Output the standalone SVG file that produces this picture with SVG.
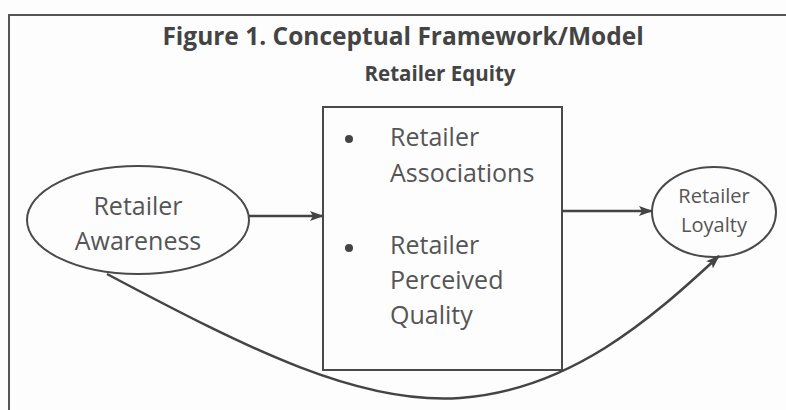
<svg xmlns="http://www.w3.org/2000/svg" width="786" height="410" viewBox="0 0 786 410">
  <defs>
    <marker id="arrow" viewBox="0 0 14 10" refX="13" refY="5" markerWidth="14" markerHeight="10" markerUnits="userSpaceOnUse" orient="auto">
      <path d="M0,0 L14,5 L0,10 L3,5 Z" fill="#444"/>
    </marker>
    <style>
      text { font-family: "Open Sans", "Liberation Sans", sans-serif; fill: #555; }
      .title { font-size: 24.5px; font-weight: bold; fill: #444; }
      .head { font-size: 20.5px; font-weight: bold; fill: #444; }
      .big { font-size: 25px; }
      .small { font-size: 20px; }
      .shape { fill: none; stroke: #4a4a4a; stroke-width: 2; }
      .link { fill: none; stroke: #444; stroke-width: 2.5; }
    </style>
  </defs>
  <rect width="786" height="410" fill="#fdfdfd"/>

  <!-- outer frame, right and bottom edges run past the canvas -->
  <rect x="9" y="15" width="800" height="420" fill="none" stroke="#555" stroke-width="2"/>

  <text class="title" x="403" y="45" text-anchor="middle">Figure 1. Conceptual Framework/Model</text>

  <g id="retailer-awareness">
    <ellipse class="shape" cx="138" cy="220" rx="111" ry="54"/>
    <text class="big" x="138" y="215" text-anchor="middle">Retailer</text>
    <text class="big" x="138" y="250" text-anchor="middle">Awareness</text>
  </g>

  <g id="retailer-equity">
    <text class="head" x="440" y="81" text-anchor="middle">Retailer Equity</text>
    <rect class="shape" x="323" y="107" width="239" height="263"/>
    <circle cx="349" cy="139" r="4" fill="#444"/>
    <text class="big" x="390" y="146">Retailer</text>
    <text class="big" x="390" y="182">Associations</text>
    <circle cx="349" cy="248" r="4" fill="#444"/>
    <text class="big" x="390" y="254">Retailer</text>
    <text class="big" x="390" y="289">Perceived</text>
    <text class="big" x="390" y="324">Quality</text>
  </g>

  <g id="retailer-loyalty">
    <ellipse class="shape" cx="714" cy="212" rx="62" ry="45"/>
    <text class="small" x="714" y="203" text-anchor="middle">Retailer</text>
    <text class="small" x="714" y="232" text-anchor="middle">Loyalty</text>
  </g>

  <g id="connectors">
    <line class="link" x1="249" y1="216" x2="323" y2="216" marker-end="url(#arrow)"/>
    <line class="link" x1="562" y1="211" x2="652" y2="211" marker-end="url(#arrow)"/>
    <path class="link" stroke-width="4" d="M107,274 C250,350 360,405 460,398 C570,390 650,320 719,256" marker-end="url(#arrow)"/>
  </g>
</svg>
